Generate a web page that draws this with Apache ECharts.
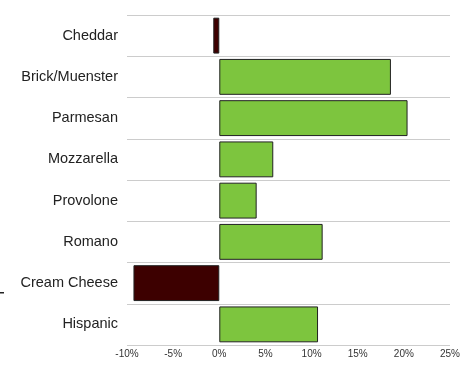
<!DOCTYPE html>
<html><head><meta charset="utf-8">
<script src="https://cdn.jsdelivr.net/npm/echarts@6/dist/echarts.min.js"></script>
<style>html,body{margin:0;padding:0;background:#fff}#c{width:475px;height:367px}</style>
</head><body><div id="c"></div>
<script>
const categories = ["Cheddar","Brick/Muenster","Parmesan","Mozzarella","Provolone","Romano","Cream Cheese","Hispanic"];
const values = [-0.65, 18.6, 20.4, 5.85, 4.05, 11.2, -9.3, 10.7];
const xTicks = [-10, -5, 0, 5, 10, 15, 20, 25];

const chart = echarts.init(document.getElementById('c'), null, {renderer:'canvas'});
chart.setOption({
  animation:false,
  grid:{left:127, right:25, top:15, bottom:22, containLabel:false},
  xAxis:{type:'value', min:xTicks[0], max:xTicks[xTicks.length-1], interval:5,
    axisLine:{show:false}, axisTick:{show:false}, splitLine:{show:false},
    axisLabel:{formatter:v=>v+'%', fontFamily:'Liberation Sans, Arial', fontSize:10, color:'#333', margin:4}},
  yAxis:{type:'category', data:categories, inverse:true,
    axisLine:{show:false}, axisTick:{show:false},
    splitLine:{show:true, lineStyle:{color:'#cccccc', width:1}},
    axisLabel:{fontFamily:'Liberation Sans, Arial', fontSize:14.5, color:'#222', margin:9}},
  series:[{type:'bar', data:values.map(v=>({value:v, itemStyle:{color: v<0?'#3d0000':'#7dc53e'}})),
    barCategoryGap:'13%', itemStyle:{borderColor:'#222', borderWidth:1}}],
  graphic:[{type:'rect', shape:{x:0,y:292,width:4,height:1.5}, style:{fill:'#222'}}]
});
</script></body></html>
